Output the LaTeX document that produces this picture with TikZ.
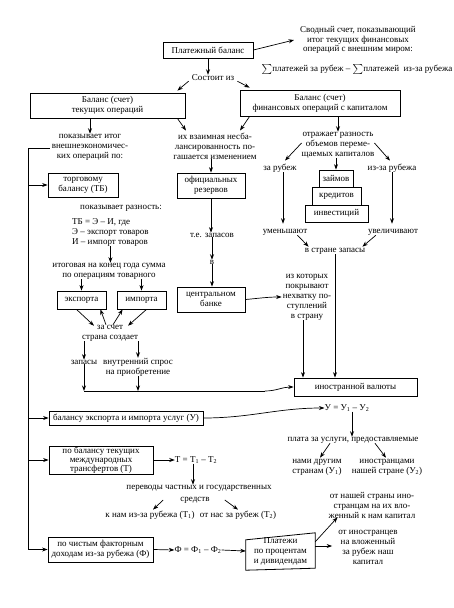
\documentclass[tikz,border=0pt]{standalone}
\usepackage{fontspec}
\setmainfont{Liberation Serif}
\usetikzlibrary{arrows.meta,calc}
\newcommand\Sgm{\raisebox{-0.5pt}{\fontsize{11}{11}\selectfont$\sum$}}
\begin{document}
\begin{tikzpicture}[x=1pt,y=-1pt,
  every node/.style={font=\fontsize{9}{10}\selectfont, inner sep=0pt, align=center},
  box/.style={draw, line width=0.8pt},
  arr/.style={-{Stealth[length=5.5pt,width=4pt]}, line width=0.7pt},
  ln/.style={line width=0.7pt}]
\useasboundingbox (0,0) rectangle (454,608);
\fill[white] (0,0) rectangle (454,608);

% top
\node[box,minimum width=90,minimum height=16] (pb) at (208,50) {Платежный баланс};
\node[font=\fontsize{9}{9.6}\selectfont] (svod) at (358,40) {Сводный счет, показывающий\\итог текущих финансовых\\операций с внешним миром:};
\node (sum) at (357,69) {\Sgm платежей за рубеж -- \Sgm платежей\ \ из-за рубежа};
\draw[arr] (pb.east) -- ([xshift=-6]svod.west);
\node (sost) at (213,78) {Состоит из};
\draw[arr] (pb.south) -- (pb.south |- sost.north);
\node[box,minimum width=155,minimum height=25] (bt) at (107.5,105.5) {Баланс (счет)\\текущих операций};
\node[box,minimum width=160,minimum height=26] (bf) at (320,103) {Баланс (счет)\\финансовых операций с капиталом};
\draw[arr] ([xshift=-3]sost.south west) -- ([xshift=-8,yshift=2]bt.north east);
\draw[arr] ([xshift=3]sost.south east) -- ([xshift=10,yshift=2]bf.north west);

% left column
\node (pit) at (90,147) {показывает итог\\внешнеэкономичес-\\ких операций по:};
\draw[arr] (bt.south -| pit.north) -- (pit.north);
\coordinate (s1) at (28,148);
\node[box,minimum width=70,minimum height=24] (tb) at (83,185) {торговому\\балансу (ТБ)};
\node (pr) at (121,208) {показывает разность:};
\node[align=left,anchor=west] (frm) at (72,232) {ТБ = Э -- И, где\\Э -- экспорт товаров\\И -- импорт товаров};
\node (itog) at (109,271) {итоговая на конец года сумма\\по операциям товарного};
\draw[arr] (frm.south) -- (frm.south |- itog.north);
\node[box,minimum width=49,minimum height=18] (exp) at (81.5,300) {экспорта};
\node[box,minimum width=49,minimum height=18] (imp) at (141.5,300) {импорта};
\draw[arr] (exp.north |- itog.south) -- (exp.north);
\draw[arr] (imp.north |- itog.south) -- (imp.north);
\node (zs) at (110,333) {за счет\\страна создает};
\draw[arr] ([xshift=-5]exp.south) -- ([xshift=-16,yshift=-1]zs.north);
\draw[arr] ([xshift=-4]zs.north) -- ([xshift=-6]exp.south east);
\draw[arr] ([xshift=3]zs.north) -- ([xshift=6]imp.south west);
\draw[arr] ([xshift=5]imp.south) -- ([xshift=18,yshift=-1]zs.north);
\node (zap) at (84,362) {запасы};
\node (vs) at (138,367) {внутренний спрос\\на приобретение};
\draw[arr] (zap.north |- zs.south) -- (zap.north);
\draw[arr] (vs.north |- zs.south) -- (vs.north);
\coordinate (h1) at (84,391);
\coordinate (h2) at (265,391);
\draw[arr] (zap.south) -- (zap.south |- h1);
\draw[arr] (vs.south) -- (vs.south |- h1);

% middle column
\node (ivn) at (215,146) {их взаимная несба-\\лансированность по-\\гашается изменением};
\draw[arr] ([xshift=-8]bt.south east) -- ([xshift=-29,yshift=2]ivn.north);
\draw[arr] ([xshift=10]bf.south west) -- ([xshift=25,yshift=2]ivn.north);
\node[box,minimum width=68,minimum height=25] (orez) at (211,185.5) {официальных\\резервов};
\draw[arr] (orez.north |- ivn.south) -- (orez.north);
\node (tez) at (212,235) {т.е. запасов};
\draw[arr] (orez.south) -- (orez.south |- tez.north);
\node (vv) at (212,262) {в};
\draw[arr] (tez.south -| vv.north) -- (vv.north);
\node[box,minimum width=68,minimum height=25] (cb) at (211,299.5) {центральном\\банке};
\draw[arr] (vv.south) -- (vv.south |- cb.north);
\node (izk) at (307,297) {из которых\\покрывают\\нехватку по-\\ступлений\\в страну};
\draw[arr] (cb.east) to[out=5,in=180] ([xshift=-1]izk.west);

% right column
\node (otr) at (338,145) {отражает разность\\объемов переме-\\щаемых капиталов};
\draw[arr] (otr.north |- bf.south) -- (otr.north);
\node (zr) at (280,168) {за рубеж};
\node (izr) at (392,168) {из-за рубежа};
\draw[arr] ([yshift=2]otr.west) -- ([xshift=5,yshift=3]zr.north);
\draw[arr] ([yshift=2]otr.east) -- ([xshift=-2,yshift=3]izr.north);
\node[box,minimum width=34,minimum height=17] (zaim) at (336,178.5) {займов};
\node[box,minimum width=49,minimum height=18] (kred) at (336.5,196) {кредитов};
\node[box,minimum width=63,minimum height=17] (inv) at (336.5,213.5) {инвестиций};
\draw[arr] (zaim.north |- otr.south) -- (zaim.north);
\node (um) at (285,232) {уменьшают};
\node (uv) at (393,232) {увеличивают};
\draw[arr] ($(zr.south)+(3,0)$) -- ($(um.north)+(-2,-5)$);
\draw[arr] (izr.south) -- ($(uv.north)+(-1,-5)$);
\node (vsz) at (335,251) {в стране запасы};
\draw[arr] ($(um.south east)+(-10,0)$) -- ($(vsz.north west)+(4,-1)$);
\draw[arr] ($(uv.south west)+(8,0)$) -- ($(vsz.north east)+(-3,-1)$);
\node[box,minimum width=123,minimum height=18] (iv) at (355.5,387) {иностранной валюты};
\draw[arr] (vsz.south) -- (vsz.south |- iv.north);
\draw[arr] ($(izk.south)+(-4,0)$) -- ($(izk.south |- iv.north)+(-4,0)$);
\draw[ln] (zap.south |- h1) -- (h2);
\draw[arr] (h2) to[out=0,in=180] (iv.west);

% lower section
\node[box,minimum width=154,minimum height=14] (usl) at (126,418) {балансу экспорта и импорта услуг (У)};
\node (uf) at (347,408) {У = У\textsubscript{1} -- У\textsubscript{2}};
\draw[arr] (usl.east) to[out=0,in=180] (uf.west);
\node (plata) at (353,440) {плата за услуги, предоставляемые};
\draw[arr] ($(uf.south)+(5,0)$) -- ($(uf.south |- plata.north)+(5,0)$);
\node (nami) at (317,467) {нами другим\\странам (У\textsubscript{1})};
\node (ino) at (387,467) {иностранцами\\нашей стране (У\textsubscript{2})};
\draw[arr] ($(plata.south)+(-23,0)$) -- ($(nami.north)+(3,-1)$);
\draw[arr] ($(plata.south)+(22,0)$) -- ($(ino.north)+(-1,-1)$);

\node[box,minimum width=104,minimum height=28,font=\fontsize{9}{9}\selectfont] (tr) at (101,460) {по балансу текущих\\международных\\трансфертов (Т)};
\node (tf) at (196,460) {Т = Т\textsubscript{1} -- Т\textsubscript{2}};
\draw[arr] (tr.east) -- (tf.west);
\node (per1) at (199,488) {переводы частных и государственных};
\node (per2) at (195,500) {средств};
\draw[arr] ($(tf.south)+(-3,0)$) -- ($(tf.south |- per1.north)+(-3,0)$);
\node (kn) at (150,515) {к нам из-за рубежа (Т\textsubscript{1})};
\node (onz) at (238,515) {от нас за рубеж (Т\textsubscript{2})};
\draw[arr] ($(per2.west)+(-17,0)$) -- ($(kn.north)+(3,-1)$);
\draw[arr] ($(per2.east)+(15,0)$) -- ($(onz.north)+(0,-1)$);

\node[box,minimum width=105,minimum height=25] (fd) at (100.5,549.5) {по чистым факторным\\доходам из-за рубежа (Ф)};
\node (ff) at (198,550) {Ф = Ф\textsubscript{1} -- Ф\textsubscript{2}};
\draw[arr] (fd.east) -- (ff.west);
\node[minimum width=69,minimum height=36] (plat) at (280.5,551) {Платежи\\по процентам\\и дивидендам};
\draw[line width=0.8pt] ($(plat.north west)+(0,7)$) -- ($(plat.north east)+(0,0)$) -- ($(plat.south east)+(0,-1)$) -- ($(plat.south west)+(0,1)$) -- cycle;
\draw[arr] (ff.east) -- (plat.west);
\node (on1) at (372,505) {от нашей страны ино-\\странцам на их вло-\\женный к нам капитал};
\node (on2) at (368,547) {от иностранцев\\на вложенный\\за рубеж наш\\капитал};
\draw[arr] ($(plat.north east)+(0,9)$) -- ($(on1.south west)+(9,-1)$);
\draw[arr] ($(plat.east)+(0,-5)$) -- ($(plat.east -| on2.west)+(-6,-5)$);

% left spine
\draw[ln] ([xshift=-2]s1 -| pit.west) -- (s1) -- (s1 |- fd.west);
\draw[arr] (s1 |- tb.west) -- (tb.west);
\draw[arr] (s1 |- usl.west) -- (usl.west);
\draw[arr] (s1 |- tr.west) -- (tr.west);
\draw[arr] (s1 |- fd.west) -- (fd.west);
\end{tikzpicture}
\end{document}
